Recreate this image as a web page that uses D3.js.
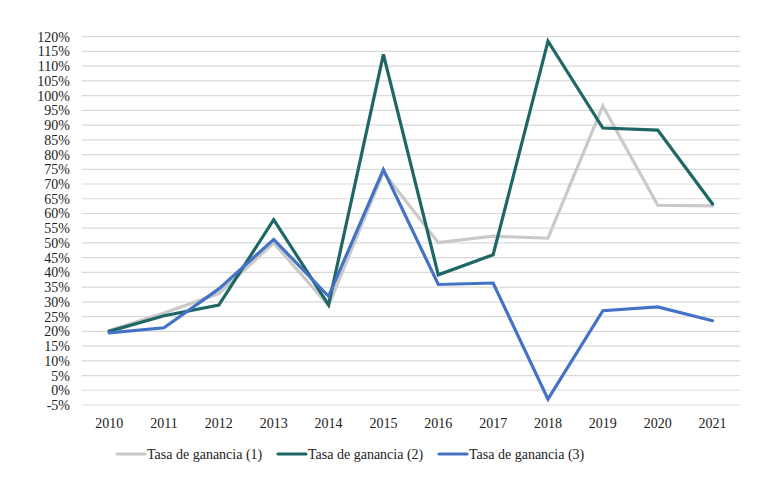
<!DOCTYPE html>
<html>
<head>
<meta charset="utf-8">
<script src="https://cdn.jsdelivr.net/npm/d3@7"></script>
<style>
  body { margin: 0; background: #fff; }
  svg text { font-family: "Palatino Linotype", "Book Antiqua", Palatino, "Liberation Serif", serif; fill: #222; }
</style>
</head>
<body>
<div id="chart"></div>
<script>
var WIDTH = 780, HEIGHT = 480;
var FONT = "\"Palatino Linotype\", \"Book Antiqua\", Palatino, \"Liberation Serif\", serif";

var years = ["2010","2011","2012","2013","2014","2015","2016","2017","2018","2019","2020","2021"];
var tasa1 = [20.3, 26.2, 32.8, 50.0, 28.8, 74.0, 50.1, 52.3, 51.6, 96.5, 62.8, 62.6];
var tasa2 = [20.0, 25.3, 28.9, 57.9, 29.0, 114.0, 39.2, 46.0, 118.5, 89.0, 88.3, 63.2];
var tasa3 = [19.5, 21.2, 34.4, 51.2, 31.9, 74.9, 35.9, 36.4, -3.0, 27.0, 28.3, 23.6];
var seriesNames = ["Tasa de ganancia (1)", "Tasa de ganancia (2)", "Tasa de ganancia (3)"];
var seriesColors = ["#c9c9c9", "#1f6666", "#4472c4"];
var yTicks = d3.range(-5, 121, 5);

var margin = {top: 36.7, right: 40, bottom: 75, left: 81.7};

var svg = d3.select("#chart").append("svg")
    .attr("width", WIDTH)
    .attr("height", HEIGHT);

var x = d3.scaleBand()
    .domain(years)
    .range([margin.left, WIDTH - margin.right]);

var y = d3.scaleLinear()
    .domain([-5, 120])
    .range([405, margin.top]);

// gridlines
svg.append("g")
    .attr("class", "grid")
    .selectAll("line")
    .data(yTicks)
    .enter().append("line")
    .attr("x1", margin.left)
    .attr("x2", WIDTH - margin.right)
    .attr("y1", function(d) { return y(d); })
    .attr("y2", function(d) { return y(d); })
    .attr("stroke", "#d9d9d9")
    .attr("stroke-width", 1.2);

// y axis labels
var yAxis = d3.axisLeft(y)
    .tickValues(yTicks)
    .tickSize(0)
    .tickPadding(0)
    .tickFormat(function(d) { return d + "%"; });

svg.append("g")
    .attr("transform", "translate(70,0)")
    .call(yAxis)
    .call(function(g) { g.select(".domain").remove(); })
    .selectAll("text")
    .attr("font-size", 14)
    .attr("font-family", FONT)
    .attr("fill", "#222");

// x axis labels
var xAxis = d3.axisBottom(x).tickSize(0).tickPadding(0);
svg.append("g")
    .attr("transform", "translate(0,418)")
    .call(xAxis)
    .call(function(g) { g.select(".domain").remove(); })
    .selectAll("text")
    .attr("font-size", 14)
    .attr("font-family", FONT)
    .attr("fill", "#222");

// lines
var line = d3.line()
    .x(function(d, i) { return x(years[i]) + x.bandwidth() / 2; })
    .y(function(d) { return y(d); });

var allSeries = [tasa1, tasa2, tasa3];

svg.append("g")
    .attr("class", "lines")
    .selectAll("path")
    .data(allSeries)
    .enter().append("path")
    .attr("d", line)
    .attr("fill", "none")
    .attr("stroke", function(d, i) { return seriesColors[i]; })
    .attr("stroke-width", 3.2)
    .attr("stroke-linejoin", "miter")
    .attr("stroke-linecap", "round");

// legend
var legendX = [117, 278, 439];
var legend = svg.append("g").attr("class", "legend")
    .selectAll("g")
    .data(seriesNames)
    .enter().append("g")
    .attr("transform", function(d, i) { return "translate(" + legendX[i] + ",454)"; });

legend.append("line")
    .attr("x1", 0).attr("x2", 28)
    .attr("y1", 0).attr("y2", 0)
    .attr("stroke", function(d, i) { return seriesColors[i]; })
    .attr("stroke-width", 3.2)
    .attr("stroke-linecap", "round");

legend.append("text")
    .attr("x", 30)
    .attr("y", 0)
    .attr("dy", "0.35em")
    .attr("font-size", 14)
    .text(function(d) { return d; });
</script>
</body>
</html>
